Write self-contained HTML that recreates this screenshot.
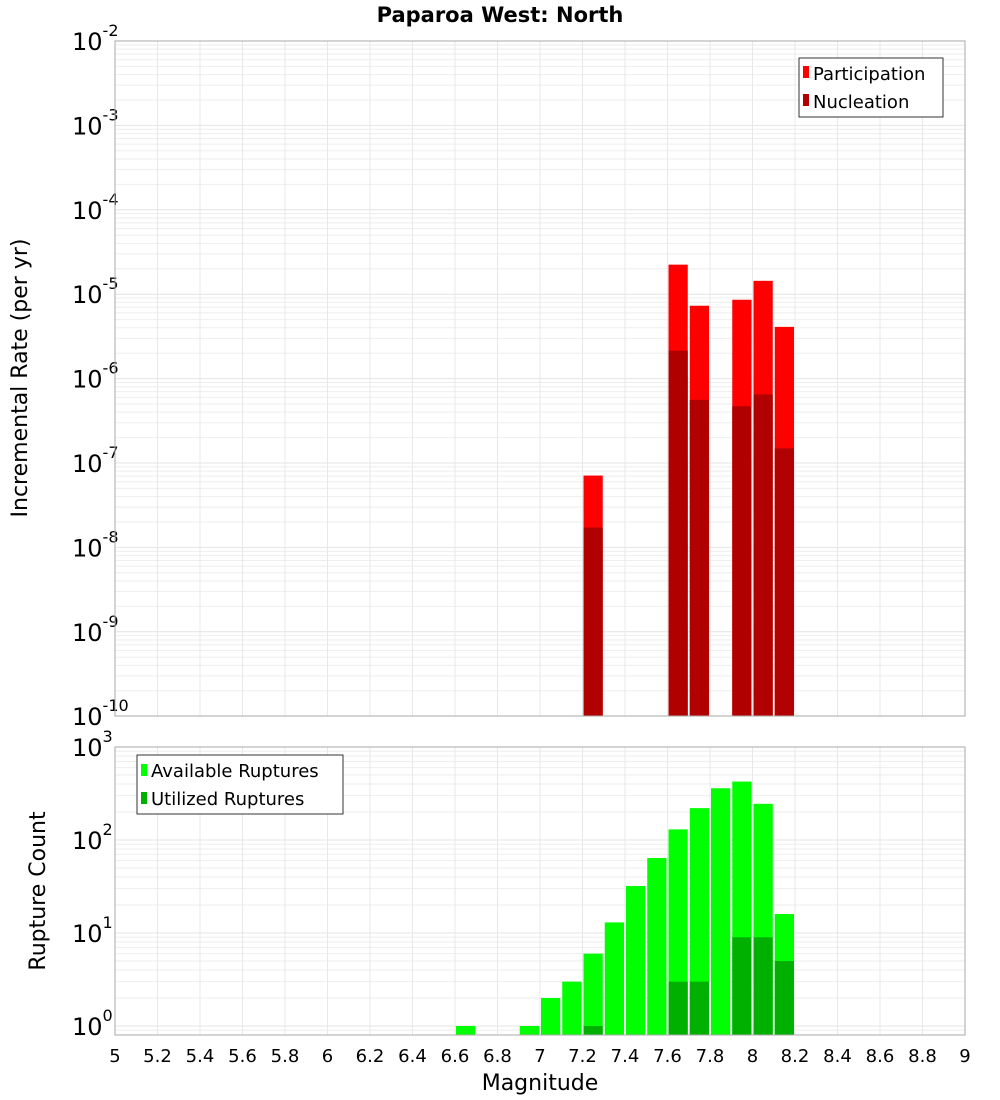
<!DOCTYPE html>
<html><head><meta charset="utf-8"><style>
html,body{margin:0;padding:0;background:#fff}
svg{display:block;font-family:"DejaVu Sans","Liberation Sans",sans-serif}
</style></head><body>
<svg id="chart" width="1000" height="1100" viewBox="0 0 1000 1100">
<text x="500" y="22" text-anchor="middle" font-size="21" font-weight="bold">Paparoa West: North</text>
<g id="topPanel"></g><g id="botPanel"></g>
<text transform="translate(27,378) rotate(-90)" text-anchor="middle" font-size="22">Incremental Rate (per yr)</text>
<text transform="translate(45,891) rotate(-90)" text-anchor="middle" font-size="22">Rupture Count</text>
<text x="540" y="1090" text-anchor="middle" font-size="22">Magnitude</text>
<g>
<rect x="799" y="58" width="144" height="59" fill="#fff" stroke="#333"/>
<rect x="803" y="66" width="6" height="12" fill="#ff0000"/>
<text x="813" y="80" font-size="18">Participation</text>
<rect x="803" y="94" width="6" height="12" fill="#b00000"/>
<text x="813" y="108" font-size="18">Nucleation</text>
</g>
<g>
<rect x="137" y="755" width="206" height="59" fill="#fff" stroke="#333"/>
<rect x="141" y="764" width="6" height="12" fill="#00ff00"/>
<text x="151" y="777" font-size="18">Available Ruptures</text>
<rect x="141" y="792" width="6" height="12" fill="#00b000"/>
<text x="151" y="805" font-size="18">Utilized Ruptures</text>
</g>
</svg>
<script>
const topMags=[7.25,7.65,7.75,7.95,8.05,8.15];
const participation=[7.1e-8,2.24e-5,7.3e-6,8.6e-6,1.44e-5,4.1e-6];
const nucleation=[1.72e-8,2.14e-6,5.6e-7,4.7e-7,6.5e-7,1.49e-7];
const botMags=[6.65,6.95,7.05,7.15,7.25,7.35,7.45,7.55,7.65,7.75,7.85,7.95,8.05,8.15];
const available=[1,1,2,3,6,13,32,64,130,220,360,425,245,16];
const utilized=[0,0,0,0,1,0,0,0,3,3,0,9,9,5];
const xTicks=[5,5.2,5.4,5.6,5.8,6,6.2,6.4,6.6,6.8,7,7.2,7.4,7.6,7.8,8,8.2,8.4,8.6,8.8,9];
const topExp=[-10,-9,-8,-7,-6,-5,-4,-3,-2];
const botExp=[0,1,2,3];
(function(){
const NS="http://www.w3.org/2000/svg";
const X0=115,X1=965;
const x=m=>X0+(m-5)*(X1-X0)/4;
const bw=(X1-X0)/40;
const yT=v=>41+(-2-Math.log10(v))*84.4;
const yB=v=>747+(3-Math.log10(v))*93;
function mk(parent,tag,attrs){const e=document.createElementNS(NS,tag);for(const k in attrs)e.setAttribute(k,attrs[k]);parent.appendChild(e);return e;}
const topG=document.getElementById('topPanel'),botG=document.getElementById('botPanel');
function panel(g,yTop,yBot,yf,exps,lo){
  const r=mk(g,'rect',{x:X0,y:yTop,width:X1-X0,height:yBot-yTop,fill:'#fff'});
  
  
  for(let i=0;i<exps.length;i++){for(let k=1;k<10;k++){const v=k*Math.pow(10,exps[i]);const yy=yf(v);if(yy<yTop-0.5||yy>yBot)continue;
    const l=mk(g,'line',{x1:X0,x2:X1,y1:yy,y2:yy,stroke:k==1?'#e4e4e4':'#eeeeee','stroke-width':1});
    
    }}
  if(lo){for(let k=2;k<10;k++){const yy=yf(k/10);if(yy<yBot){const l=mk(g,'line',{x1:X0,x2:X1,y1:yy,y2:yy,stroke:'#eeeeee'});
    
    }}}
  xTicks.forEach(t=>{const l=mk(g,'line',{x1:x(t),x2:x(t),y1:yTop,y2:yBot,stroke:'#e8e8e8'});
    
    });
  exps.forEach(e=>{const yy=yf(Math.pow(10,e));const t=mk(g,'text',{x:72,y:yy+9,'font-size':24});
    
    
    t.textContent='10';const s=mk(t,'tspan',{dy:-14,'font-size':16});s.textContent=String(e);});
}
panel(topG,41,716,yT,topExp,false);
panel(botG,747,1035,yB,botExp,true);
topMags.forEach((m,i)=>{
  const yp=yT(participation[i]);
  const b=mk(topG,'rect',{x:x(m-0.05)+1,y:yp,width:bw-2,height:716-yp,fill:'#ff0000'});
  
  
  const yn=yT(nucleation[i]);
  const c=mk(topG,'rect',{x:x(m-0.05)+1,y:yn,width:bw-2,height:716-yn,fill:'#b00000'});
  
  
});
botMags.forEach((m,i)=>{
  const ya=yB(available[i]);
  const b=mk(botG,'rect',{x:x(m-0.05)+1,y:ya,width:bw-2,height:1035-ya,fill:'#00ff00'});
  
  
  if(utilized[i]>0){const yu=yB(utilized[i]);
    const c=mk(botG,'rect',{x:x(m-0.05)+1,y:yu,width:bw-2,height:1035-yu,fill:'#00b000'});
    
    }
});
[[topG,41,716],[botG,747,1035]].forEach(([g,a,b])=>{const f=mk(g,'rect',{x:X0,y:a,width:X1-X0,height:b-a,fill:'none',stroke:'#aaaaaa'});
  
  });
xTicks.forEach(t=>{const tx=mk(botG,'text',{x:x(t),y:1062,'text-anchor':'middle','font-size':18});
  
  
  tx.textContent=String(t);});
})();
</script>
</body></html>
